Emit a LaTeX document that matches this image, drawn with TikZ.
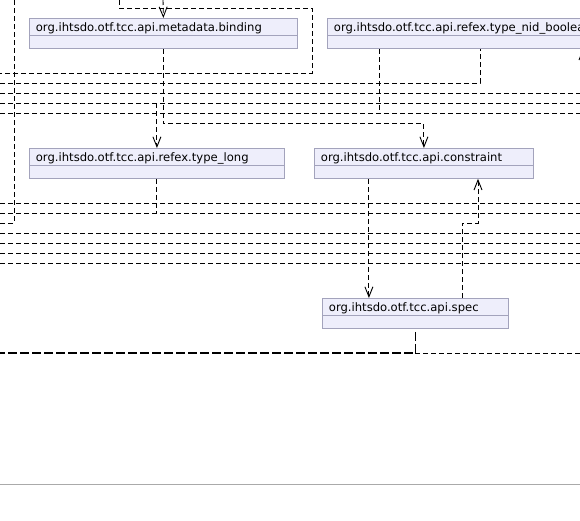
\documentclass[tikz,border=0pt]{standalone}
\usepackage{fontspec}
\setmainfont{DejaVu Sans}
\usepackage{xcolor}
\usepackage{tikz}
\usetikzlibrary{arrows.meta,positioning}

\definecolor{clsfill}{HTML}{EEEEFB}
\definecolor{clsline}{HTML}{A3A3BC}
\definecolor{rulegray}{HTML}{AAAAAA}

\begin{document}
\begin{tikzpicture}[x=1pt, y=-1pt, font=\fontsize{11.6}{13}\selectfont, every node/.style={inner sep=0pt}]
        \tikzset{
            cls/.style={draw=clsline, fill=clsfill, line width=0.8pt, anchor=north west, align=left,
                inner xsep=6.5pt, inner ysep=3pt, text height=10pt, text depth=14pt,
                path picture={\draw[clsline, line width=0.8pt]
                    ([yshift=-17pt]path picture bounding box.north west) --
                    ([yshift=-17pt]path picture bounding box.north east);}},
            dep/.style={line width=0.9pt, dash pattern=on 5pt off 3pt},
            arr/.style={dep, -{Straight Barb[length=10pt, width=8pt]}},
            heavy/.style={line width=1.8pt, dash pattern=on 9pt off 3pt, shorten <=3pt}
        }

        \useasboundingbox (0,0) rectangle (580,520);
        \clip (0,0) rectangle (580,520);

        \node[cls, text width=255pt] (binding) at (29,18) {org.ihtsdo.otf.tcc.api.metadata.binding};
        \node[cls, text width=290pt] (nidbool) at (327,18) {org.ihtsdo.otf.tcc.api.refex.type\_nid\_boolean};
        \node[cls, text width=242pt] (typelong) at (29,148) {org.ihtsdo.otf.tcc.api.refex.type\_long};
        \node[cls, text width=206pt] (constraint) at (314,148) {org.ihtsdo.otf.tcc.api.constraint};
        \node[cls, text width=173pt] (spec) at (322,298) {org.ihtsdo.otf.tcc.api.spec};

        % ends of the lines that leave the frame
        \coordinate (inTop) at (163,0);
        \coordinate (loopTop) at (119,0);
        \coordinate (loopEnd) at (0,73);
        \coordinate (leftTop) at (14,0);
        \coordinate (leftEnd) at (0,223);
        \coordinate (w83) at (0,83);
        \coordinate (w93) at (0,93);    \coordinate (e93) at (580,93);
        \coordinate (w103) at (0,103);  \coordinate (e103) at (580,103);
        \coordinate (w113) at (0,113);  \coordinate (e113) at (580,113);
        \coordinate (w203) at (0,203);  \coordinate (e203) at (580,203);
        \coordinate (w213) at (0,213);  \coordinate (e213) at (580,213);
        \coordinate (w233) at (0,233);  \coordinate (e233) at (580,233);
        \coordinate (w243) at (0,243);  \coordinate (e243) at (580,243);
        \coordinate (w253) at (0,253);  \coordinate (e253) at (580,253);
        \coordinate (w263) at (0,263);  \coordinate (e263) at (580,263);
        \coordinate (w353) at (0,353);  \coordinate (e353) at (580,353);
        \coordinate (w484) at (0,484);  \coordinate (e484) at (580,484);
        \coordinate (offRight) at (583,93);

        \draw[arr] (inTop) -- (binding.north);
        \draw[dep] (loopTop) -- ++(0,8) -- ++(193,0) |- (loopEnd);
        \draw[dep] (leftTop) |- (leftEnd);

        \draw[dep] (w83) -| ([xshift=153pt]nidbool.south west);
        \draw[dep] (w93) -- (e93);
        \draw[dep] (w103) -- (e103);
        \draw[arr] (typelong.north |- w103) -- (typelong.north);
        \draw[dep] (w113) -- (e113);
        \draw[dep] ([xshift=52pt]nidbool.south west) coordinate (nbdown) -- (nbdown |- w113);
        \draw[arr] (binding.south) -- ++(0,75) -| (constraint.north);
        \draw[arr] (offRight) -- (offRight |- nidbool.south);

        \draw[dep] (w203) -- (e203);
        \draw[dep] (w213) -- (e213);
        \draw[dep] (typelong.south) -- (typelong.south |- w213);
        \draw[dep] (w233) -- (e233);
        \draw[dep] (w243) -- (e243);
        \draw[dep] (w253) -- (e253);
        \draw[dep] (w263) -- (e263);

        \draw[arr] ([xshift=-55pt]constraint.south) coordinate (cdown) -- (cdown |- spec.north);
        \draw[arr] ([xshift=140pt]spec.north west) -- ++(0,-75) -| ([xshift=164pt]constraint.south west);

        \draw[heavy] (spec.south) |- (w353);
        \draw[dep] (spec.south |- w353) -- (e353);

        \draw[rulegray, line width=1pt] (w484) -- (e484);
    \end{tikzpicture}
\end{document}
